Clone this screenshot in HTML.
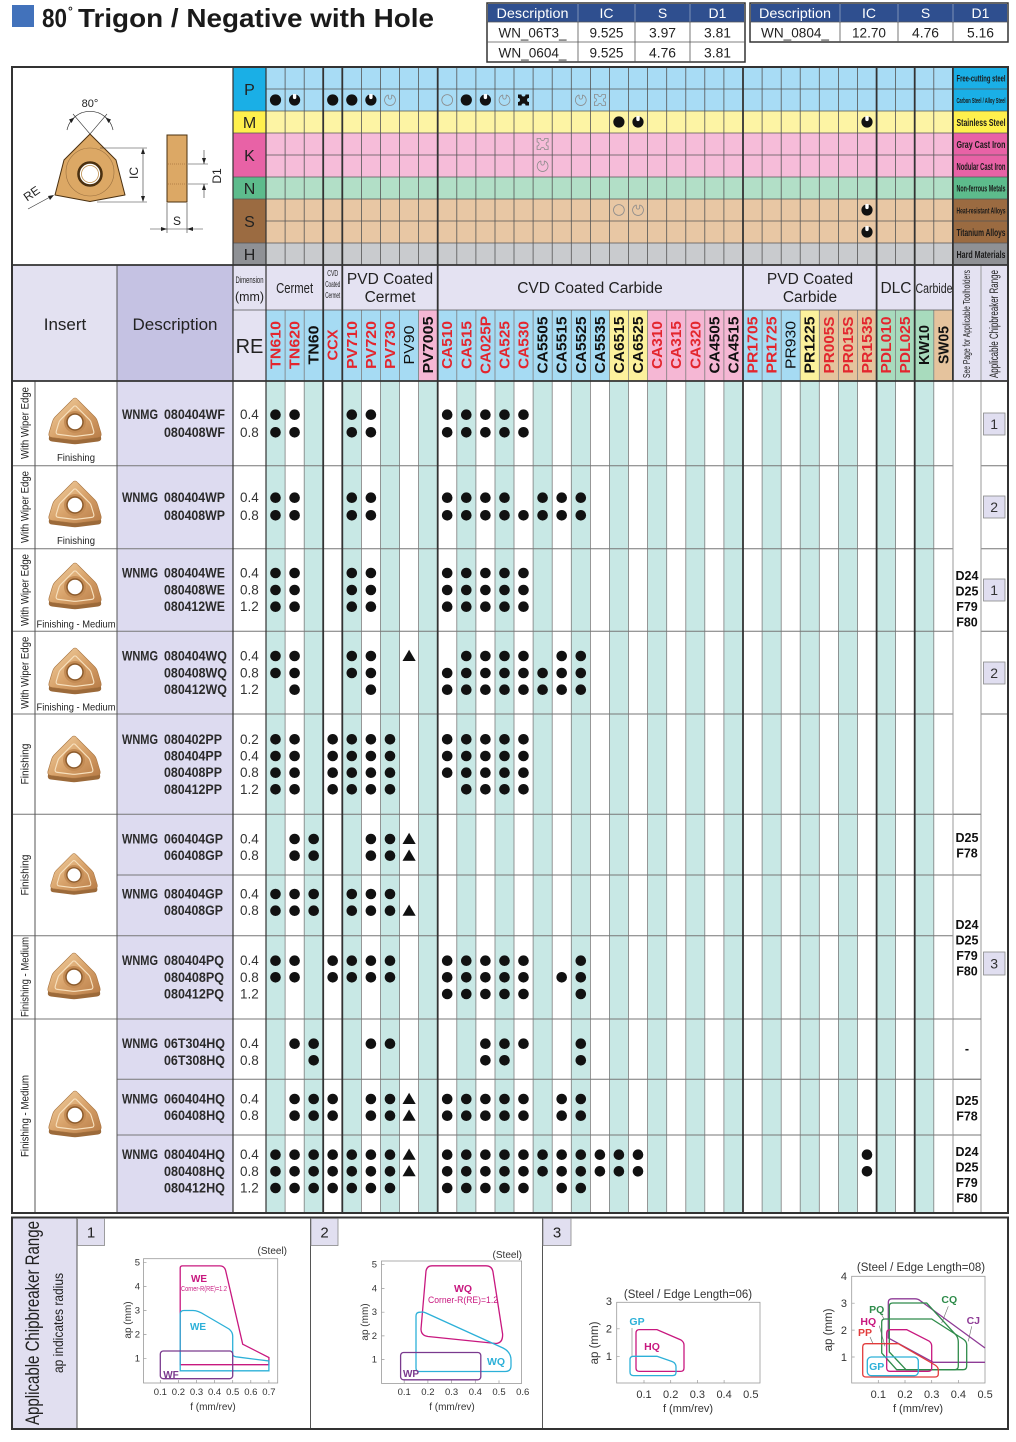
<!DOCTYPE html>
<html><head><meta charset="utf-8"><style>
html,body{margin:0;padding:0;background:#fff;}
svg{display:block;font-family:"Liberation Sans",Arial,sans-serif;}
.g{font-size:14.5px;font-weight:bold;text-anchor:middle;fill:#111}
.r{fill:#e3262e}
.n{font-weight:normal}
.m{text-anchor:middle}
.e{text-anchor:end}
.b{font-weight:bold}
.ds{font-size:13.5px;font-weight:bold;fill:#2a2a2a}
.re{font-size:13.5px;fill:#333}
.sp{font-size:12.5px;font-weight:bold;text-anchor:middle;fill:#111}
.ml{font-size:10px;font-weight:bold;text-anchor:middle;fill:#1a1a1a}
.ax{font-size:9.5px;fill:#333}
.ax2{font-size:11px;fill:#333}
</style></head><body>
<svg width="1016" height="1442" viewBox="0 0 1016 1442" xmlns="http://www.w3.org/2000/svg">
<defs>
<linearGradient id="gold" x1="0" y1="0" x2="1" y2="1"><stop offset="0" stop-color="#f4d5a8"/><stop offset="0.5" stop-color="#d9a46c"/><stop offset="1" stop-color="#b77b46"/></linearGradient>
<circle id="d" r="5.3" fill="#111"/>
<path id="t" d="M0,-6.2L6.6,5L-6.6,5Z" fill="#111"/>
<g id="nf"><circle r="5.6" fill="#111"/><path d="M-1.7,-6V-2.6A1.7,1.7 0 0 0 1.7,-2.6V-6Z" fill="#fff"/></g>
<g id="on" fill="none" stroke="#8a8a8a" stroke-width="0.8"><path d="M-1.7,-5.1A5.4,5.4 0 1 0 1.7,-5.1"/><path d="M-1.7,-5.1V-2.6A1.7,1.7 0 0 0 1.7,-2.6V-5.1"/></g>
<circle id="oc" r="5.4" fill="none" stroke="#8a8a8a" stroke-width="0.8"/>
<path id="x" d="M-5.5,-5.5H-2A2,2 0 0 0 2,-5.5H5.5V-2A2,2 0 0 0 5.5,2V5.5H2A2,2 0 0 0 -2,5.5H-5.5V2A2,2 0 0 0 -5.5,-2Z" fill="#111"/>
<path id="xo" d="M-5.5,-5.5H-2A2,2 0 0 0 2,-5.5H5.5V-2A2,2 0 0 0 5.5,2V5.5H2A2,2 0 0 0 -2,5.5H-5.5V2A2,2 0 0 0 -5.5,-2Z" fill="none" stroke="#8a8a8a" stroke-width="0.8"/>
<symbol id="ins" viewBox="-30 -28 60 56" overflow="visible">
<path transform="translate(0,4)" d="M-3,-21Q0,-25 3,-21L20,-4Q22,-2 22.7,1L26,12Q27,16 23,16.5L3,19Q0,19.4 -3,19L-23,16.5Q-27,16 -26,12L-22.7,1Q-22,-2 -20,-4Z" fill="#9c6a3a"/>
<path d="M-3,-21Q0,-25 3,-21L20,-4Q22,-2 22.7,1L26,12Q27,16 23,16.5L3,19Q0,19.4 -3,19L-23,16.5Q-27,16 -26,12L-22.7,1Q-22,-2 -20,-4Z" fill="url(#gold)" stroke="#a87440" stroke-width="0.6"/>
<path transform="translate(0,1.5) scale(0.72)" d="M-3,-21Q0,-25 3,-21L20,-4Q22,-2 22.7,1L26,12Q27,16 23,16.5L3,19Q0,19.4 -3,19L-23,16.5Q-27,16 -26,12L-22.7,1Q-22,-2 -20,-4Z" fill="none" stroke="#f7e0bd" stroke-width="1.6"/>
<circle cy="1" r="11" fill="#c48c55"/>
<circle cy="1" r="8" fill="#fff" stroke="#8b5a2b" stroke-width="1.5"/>
</symbol>
<g id="pA"><use href="#d" x="275.5"/><use href="#d" x="294.6"/><use href="#d" x="351.8"/><use href="#d" x="370.9"/><use href="#d" x="447.2"/><use href="#d" x="466.3"/><use href="#d" x="485.4"/><use href="#d" x="504.5"/><use href="#d" x="523.5"/></g>
<g id="pB"><use href="#d" x="275.5"/><use href="#d" x="294.6"/><use href="#d" x="351.8"/><use href="#d" x="370.9"/><use href="#d" x="447.2"/><use href="#d" x="466.3"/><use href="#d" x="485.4"/><use href="#d" x="504.5"/><use href="#d" x="542.6"/><use href="#d" x="561.7"/><use href="#d" x="580.8"/></g>
<g id="pC"><use href="#pA"/><use href="#d" x="542.6"/><use href="#d" x="561.7"/><use href="#d" x="580.8"/></g>
<g id="pD"><use href="#d" x="275.5"/><use href="#d" x="294.6"/><use href="#d" x="351.8"/><use href="#d" x="370.9"/><use href="#t" x="409.1"/><use href="#d" x="466.3"/><use href="#d" x="485.4"/><use href="#d" x="504.5"/><use href="#d" x="523.5"/><use href="#d" x="561.7"/><use href="#d" x="580.8"/></g>
<g id="pE"><use href="#d" x="294.6"/><use href="#d" x="370.9"/><use href="#d" x="447.2"/><use href="#d" x="466.3"/><use href="#d" x="485.4"/><use href="#d" x="504.5"/><use href="#d" x="523.5"/><use href="#d" x="542.6"/><use href="#d" x="561.7"/><use href="#d" x="580.8"/></g>
<g id="pF"><use href="#d" x="275.5"/><use href="#d" x="294.6"/><use href="#d" x="332.7"/><use href="#d" x="351.8"/><use href="#d" x="370.9"/><use href="#d" x="390"/><use href="#d" x="447.2"/><use href="#d" x="466.3"/><use href="#d" x="485.4"/><use href="#d" x="504.5"/><use href="#d" x="523.5"/></g>
<g id="pG"><use href="#d" x="275.5"/><use href="#d" x="294.6"/><use href="#d" x="332.7"/><use href="#d" x="351.8"/><use href="#d" x="370.9"/><use href="#d" x="390"/><use href="#d" x="466.3"/><use href="#d" x="485.4"/><use href="#d" x="504.5"/><use href="#d" x="523.5"/></g>
<g id="pH"><use href="#d" x="294.6"/><use href="#d" x="313.7"/><use href="#d" x="370.9"/><use href="#d" x="390"/><use href="#t" x="409.1"/></g>
<g id="pI"><use href="#d" x="275.5"/><use href="#d" x="294.6"/><use href="#d" x="313.7"/><use href="#d" x="351.8"/><use href="#d" x="370.9"/><use href="#d" x="390"/></g>
<g id="pJ"><use href="#pI"/><use href="#t" x="409.1"/></g>
<g id="pK"><use href="#pF"/><use href="#d" x="580.8"/></g>
<g id="pL"><use href="#pF"/><use href="#d" x="561.7"/><use href="#d" x="580.8"/></g>
<g id="pM"><use href="#d" x="447.2"/><use href="#d" x="466.3"/><use href="#d" x="485.4"/><use href="#d" x="504.5"/><use href="#d" x="523.5"/><use href="#d" x="580.8"/></g>
<g id="pN"><use href="#d" x="294.6"/><use href="#d" x="313.7"/><use href="#d" x="370.9"/><use href="#d" x="390"/><use href="#d" x="485.4"/><use href="#d" x="504.5"/><use href="#d" x="523.5"/><use href="#d" x="580.8"/></g>
<g id="pO"><use href="#d" x="313.7"/><use href="#d" x="485.4"/><use href="#d" x="504.5"/><use href="#d" x="580.8"/></g>
<g id="pP"><use href="#d" x="294.6"/><use href="#d" x="313.7"/><use href="#d" x="332.7"/><use href="#d" x="370.9"/><use href="#d" x="390"/><use href="#t" x="409.1"/><use href="#d" x="447.2"/><use href="#d" x="466.3"/><use href="#d" x="485.4"/><use href="#d" x="504.5"/><use href="#d" x="523.5"/><use href="#d" x="561.7"/><use href="#d" x="580.8"/></g>
<g id="p7"><use href="#d" x="275.5"/><use href="#d" x="294.6"/><use href="#d" x="313.7"/><use href="#d" x="332.7"/><use href="#d" x="351.8"/><use href="#d" x="370.9"/><use href="#d" x="390"/></g>
<g id="pQ"><use href="#p7"/><use href="#t" x="409.1"/><use href="#d" x="447.2"/><use href="#d" x="466.3"/><use href="#d" x="485.4"/><use href="#d" x="504.5"/><use href="#d" x="523.5"/><use href="#d" x="542.6"/><use href="#d" x="561.7"/><use href="#d" x="580.8"/><use href="#d" x="599.9"/><use href="#d" x="618.9"/><use href="#d" x="638"/><use href="#d" x="867"/></g>
<g id="pR"><use href="#p7"/><use href="#d" x="447.2"/><use href="#d" x="466.3"/><use href="#d" x="485.4"/><use href="#d" x="504.5"/><use href="#d" x="523.5"/><use href="#d" x="561.7"/><use href="#d" x="580.8"/></g>
</defs>

<!-- ===== TITLE ===== -->
<rect x="12" y="5" width="22" height="22" fill="#4272bb"/>
<text x="42" y="27" font-size="26" font-weight="bold" fill="#1a1a1a" textLength="25" lengthAdjust="spacingAndGlyphs">80</text>
<text x="68" y="15" font-size="12" font-weight="bold" fill="#1a1a1a">°</text>
<text x="78" y="27" font-size="26" font-weight="bold" fill="#1a1a1a" textLength="356" lengthAdjust="spacingAndGlyphs">Trigon / Negative with Hole</text>

<!-- tables -->
<g font-size="14" fill="#222">
<rect x="487" y="3" width="258" height="59" fill="#fff" stroke="#333" stroke-width="1.5"/>
<rect x="488" y="4" width="256" height="18" fill="#2f4f8f"/>
<path d="M578,3V62M635,3V62M690,3V62" stroke="#555" stroke-width="0.8"/>
<path d="M578,4V22M635,4V22M690,4V22" stroke="#8aa0cc" stroke-width="0.8"/>
<path d="M487,22H745M487,42H745" stroke="#555" stroke-width="0.8"/>
<g fill="#fff" text-anchor="middle">
<text x="532.5" y="18" textLength="72" lengthAdjust="spacingAndGlyphs">Description</text>
<text x="606.5" y="18">IC</text><text x="662.5" y="18">S</text><text x="717.5" y="18">D1</text></g>
<g text-anchor="middle">
<text x="532.5" y="37.5" textLength="68" lengthAdjust="spacingAndGlyphs">WN_06T3_</text>
<text x="606.5" y="37.5" textLength="34" lengthAdjust="spacingAndGlyphs">9.525</text>
<text x="662.5" y="37.5" textLength="27" lengthAdjust="spacingAndGlyphs">3.97</text>
<text x="717.5" y="37.5" textLength="27" lengthAdjust="spacingAndGlyphs">3.81</text>
<text x="532.5" y="57.5" textLength="68" lengthAdjust="spacingAndGlyphs">WN_0604_</text>
<text x="606.5" y="57.5" textLength="34" lengthAdjust="spacingAndGlyphs">9.525</text>
<text x="662.5" y="57.5" textLength="27" lengthAdjust="spacingAndGlyphs">4.76</text>
<text x="717.5" y="57.5" textLength="27" lengthAdjust="spacingAndGlyphs">3.81</text>
</g>
<rect x="750" y="3" width="258" height="39" fill="#fff" stroke="#333" stroke-width="1.5"/>
<rect x="751" y="4" width="256" height="18" fill="#2f4f8f"/>
<path d="M840,3V42M898,3V42M953,3V42M750,22H1008" stroke="#555" stroke-width="0.8"/>
<path d="M840,4V22M898,4V22M953,4V22" stroke="#8aa0cc" stroke-width="0.8"/>
<g fill="#fff" text-anchor="middle">
<text x="795" y="18" textLength="72" lengthAdjust="spacingAndGlyphs">Description</text>
<text x="869" y="18">IC</text><text x="925.5" y="18">S</text><text x="980.5" y="18">D1</text></g>
<g text-anchor="middle">
<text x="795" y="37.5" textLength="68" lengthAdjust="spacingAndGlyphs">WN_0804_</text>
<text x="869" y="37.5" textLength="34" lengthAdjust="spacingAndGlyphs">12.70</text>
<text x="925.5" y="37.5" textLength="27" lengthAdjust="spacingAndGlyphs">4.76</text>
<text x="980.5" y="37.5" textLength="27" lengthAdjust="spacingAndGlyphs">5.16</text>
</g>
</g>

<!-- ===== MATERIAL AREA ===== -->
<rect x="266" y="67" width="687" height="44" fill="#a8dcf5"/>
<rect x="266" y="111" width="687" height="22" fill="#fdf4a4"/>
<rect x="266" y="133" width="687" height="44" fill="#f6bcd9"/>
<rect x="266" y="177" width="687" height="22" fill="#b2dfc7"/>
<rect x="266" y="199" width="687" height="44" fill="#e8c7a4"/>
<rect x="266" y="243" width="687" height="22" fill="#c9cbce"/>
<rect x="233" y="67" width="33" height="44" fill="#1aafe6"/><rect x="953" y="67" width="55" height="44" fill="#1aafe6"/>
<rect x="233" y="111" width="33" height="22" fill="#fff04d"/><rect x="953" y="111" width="55" height="22" fill="#fff04d"/>
<rect x="233" y="133" width="33" height="44" fill="#e862a6"/><rect x="953" y="133" width="55" height="44" fill="#e862a6"/>
<rect x="233" y="177" width="33" height="22" fill="#5dbb8c"/><rect x="953" y="177" width="55" height="22" fill="#5dbb8c"/>
<rect x="233" y="199" width="33" height="44" fill="#9b6b41"/><rect x="953" y="199" width="55" height="44" fill="#9b6b41"/>
<rect x="233" y="243" width="33" height="22" fill="#8f9195"/><rect x="953" y="243" width="55" height="22" fill="#8f9195"/>
<g font-size="16" text-anchor="middle" fill="#222">
<text x="249.5" y="95">P</text><text x="249.5" y="128">M</text><text x="249.5" y="161">K</text>
<text x="249.5" y="194">N</text><text x="249.5" y="227">S</text><text x="249.5" y="260">H</text></g>
<g class="ml">
<text x="981" y="81.5" font-size="9" textLength="49" lengthAdjust="spacingAndGlyphs">Free-cutting steel</text>
<text x="981" y="103" font-size="7.5" textLength="49" lengthAdjust="spacingAndGlyphs">Carbon Steel / Alloy Steel</text>
<text x="981" y="126" font-size="10.5" textLength="49" lengthAdjust="spacingAndGlyphs">Stainless Steel</text>
<text x="981" y="148" font-size="10.5" textLength="49" lengthAdjust="spacingAndGlyphs">Gray Cast Iron</text>
<text x="981" y="170" font-size="10" textLength="49" lengthAdjust="spacingAndGlyphs">Nodular Cast Iron</text>
<text x="981" y="191.5" font-size="9" textLength="49" lengthAdjust="spacingAndGlyphs">Non-ferrous Metals</text>
<text x="981" y="213.5" font-size="8.5" textLength="49" lengthAdjust="spacingAndGlyphs">Heat-resistant Alloys</text>
<text x="981" y="236" font-size="10" textLength="49" lengthAdjust="spacingAndGlyphs">Titanium Alloys</text>
<text x="981" y="258" font-size="10" textLength="49" lengthAdjust="spacingAndGlyphs">Hard Materials</text>
</g>
<path d="M266,89H1008M233,111H1008M233,133H1008M266,155H1008M233,177H1008M233,199H1008M266,221H1008M233,243H1008" stroke="#555" stroke-width="0.8"/>
<path d="M285.1,67V265M304.2,67V265M361.4,67V265M380.5,67V265M399.6,67V265M418.6,67V265M456.8,67V265M475.9,67V265M495,67V265M514,67V265M533.1,67V265M552.2,67V265M571.3,67V265M590.4,67V265M609.4,67V265M628.5,67V265M647.6,67V265M666.7,67V265M685.8,67V265M704.8,67V265M723.9,67V265M762.1,67V265M781.2,67V265M800.2,67V265M819.3,67V265M838.4,67V265M857.5,67V265M895.6,67V265M933.8,67V265" stroke="#555" stroke-width="0.8"/>
<!-- material symbols -->
<g transform="translate(0,100)">
<use href="#nf" x="-1000"/>
</g>
<use href="#d" x="275.5" y="100" transform="scale(1)"/>
<g>
<circle cx="275.5" cy="100" r="5.6" fill="#111"/>
<use href="#nf" x="294.6" y="100"/>
<circle cx="332.7" cy="100" r="5.6" fill="#111"/>
<circle cx="351.8" cy="100" r="5.6" fill="#111"/>
<use href="#nf" x="370.9" y="100"/>
<use href="#on" x="390" y="100"/>
<use href="#oc" x="447.2" y="100"/>
<circle cx="466.3" cy="100" r="5.6" fill="#111"/>
<use href="#nf" x="485.4" y="100"/>
<use href="#on" x="504.5" y="100"/>
<use href="#x" x="523.5" y="100"/>
<use href="#on" x="580.8" y="100"/>
<use href="#xo" x="599.9" y="100"/>
<circle cx="618.9" cy="122" r="5.6" fill="#111"/>
<use href="#nf" x="638" y="122"/>
<use href="#nf" x="867" y="122"/>
<use href="#xo" x="542.6" y="144"/>
<use href="#on" x="542.6" y="166"/>
<use href="#oc" x="618.9" y="210"/>
<use href="#on" x="638" y="210"/>
<use href="#nf" x="867" y="210"/>
<use href="#nf" x="867" y="232"/>
</g>

<!-- ===== TOP-LEFT DIAGRAM ===== -->
<rect x="12" y="67" width="221" height="198" fill="#fff"/>
<path d="M90,134L116,160L125,195L90,201.5L55,195L64,160Z" fill="#dca865" stroke="#4a3010" stroke-width="1" stroke-linejoin="round"/>
<circle cx="90" cy="172" r="24" fill="none" stroke="#9a7040" stroke-width="0.6"/>
<circle cx="90" cy="174" r="11.5" fill="#fff" stroke="#4a3010" stroke-width="2.6"/>
<circle cx="90" cy="174" r="8.5" fill="none" stroke="#c0914f" stroke-width="0.8"/>
<path d="M90,134L73,114M90,134L107,114" stroke="#333" stroke-width="0.6"/>
<path d="M67,130A23.5,23.5 0 0 1 113,130" fill="none" stroke="#333" stroke-width="0.7"/>
<path d="M74.5,117.5L69,119.5L71.5,123ZM105.5,117.5L111,119.5L108.5,123Z" fill="#222"/>
<text x="90" y="107" font-size="11" class="m" fill="#222">80°</text>
<path d="M100,148H147M97,202H147M143,150V200" stroke="#333" stroke-width="0.6"/>
<path d="M143,148L141,154L145,154ZM143,202L141,196L145,196Z" fill="#222"/>
<text transform="translate(138,173) rotate(-90)" font-size="12" class="m" fill="#222">IC</text>
<rect x="167" y="135" width="20" height="67" fill="#dca865" stroke="#4a3010" stroke-width="1"/>
<path d="M168,164H186M168,184H186" stroke="#8a5a2a" stroke-width="0.6" stroke-dasharray="1,1"/>
<path d="M188,164H208M188,184H208M204,150V164M204,184V198" stroke="#333" stroke-width="0.6"/>
<path d="M204,164L202,158L206,158ZM204,184L202,190L206,190Z" fill="#222"/>
<text transform="translate(221,176) rotate(-90)" font-size="12" class="m" fill="#222">D1</text>
<path d="M167,203V233M187,203V233M150,229H203" stroke="#333" stroke-width="0.6"/>
<path d="M167,229L161,227L161,231ZM187,229L193,227L193,231Z" fill="#222"/>
<text x="177" y="225" font-size="12" class="m" fill="#222">S</text>
<text transform="translate(34,197) rotate(-35)" font-size="12" class="m" fill="#222">RE</text>
<path d="M28,209L51,196.5" stroke="#333" stroke-width="0.6"/>
<path d="M54,195L48,196L50,200Z" fill="#222"/>

<!-- ===== HEADER ===== -->
<rect x="12" y="265" width="105" height="116" fill="#e3e1f1"/>
<rect x="117" y="265" width="116" height="116" fill="#c5c2e3"/>
<rect x="233" y="265" width="720" height="116" fill="#e4e2f2"/>
<rect x="953" y="265" width="55" height="116" fill="#e4e2f2"/>
<text x="65" y="330" font-size="17" class="m" fill="#222">Insert</text>
<text x="175" y="330" font-size="17" class="m" fill="#222">Description</text>
<text x="249.5" y="283" font-size="9" class="m" fill="#222" textLength="28" lengthAdjust="spacingAndGlyphs">Dimension</text>
<text x="249.5" y="301" font-size="13" class="m" fill="#222" textLength="29" lengthAdjust="spacingAndGlyphs">(mm)</text>
<text x="249.5" y="353" font-size="20" class="m" fill="#222">RE</text>
<g fill="#222" class="m">
<text x="294.6" y="293" font-size="14.5" textLength="37" lengthAdjust="spacingAndGlyphs">Cermet</text>
<text x="332.7" y="276" font-size="8" textLength="11" lengthAdjust="spacingAndGlyphs">CVD</text>
<text x="332.7" y="287" font-size="8" textLength="15" lengthAdjust="spacingAndGlyphs">Coated</text>
<text x="332.7" y="298" font-size="8" textLength="15" lengthAdjust="spacingAndGlyphs">Cermet</text>
<text x="390" y="284" font-size="15.5">PVD Coated</text>
<text x="390" y="302" font-size="15.5">Cermet</text>
<text x="590" y="293" font-size="15.5">CVD Coated Carbide</text>
<text x="810" y="284" font-size="15.5">PVD Coated</text>
<text x="810" y="302" font-size="15.5">Carbide</text>
<text x="896" y="293" font-size="15.5">DLC</text>
<text x="934" y="293" font-size="13.5" textLength="37" lengthAdjust="spacingAndGlyphs">Carbide</text>
<text transform="translate(970,324) rotate(-90)" font-size="10.5" textLength="108" lengthAdjust="spacingAndGlyphs">See Page for Applicable Toolholders</text>
<text transform="translate(998,324) rotate(-90)" font-size="11.5" textLength="108" lengthAdjust="spacingAndGlyphs">Applicable Chipbreaker Range</text>
</g>
<!-- grade bgs -->
<rect x="266" y="310" width="152.6" height="71" fill="#a6dbf3"/>
<rect x="418.6" y="310" width="19.1" height="71" fill="#f5b7d4"/>
<rect x="437.7" y="310" width="171.7" height="71" fill="#a6dbf3"/>
<rect x="609.4" y="310" width="38.2" height="71" fill="#fcf19c"/>
<rect x="647.6" y="310" width="95.4" height="71" fill="#f5b7d4"/>
<rect x="743" y="310" width="57.2" height="71" fill="#a6dbf3"/>
<rect x="800.2" y="310" width="19.1" height="71" fill="#fcf19c"/>
<rect x="819.3" y="310" width="57.3" height="71" fill="#e5c39d"/>
<rect x="876.6" y="310" width="57.2" height="71" fill="#a8dbbd"/>
<rect x="933.8" y="310" width="19.1" height="71" fill="#e5c39d"/>
<g class="g">
<text class="r" transform="translate(275.5,345) rotate(-90)" dy="5" textLength="48" lengthAdjust="spacingAndGlyphs">TN610</text>
<text class="r" transform="translate(294.6,345) rotate(-90)" dy="5" textLength="48" lengthAdjust="spacingAndGlyphs">TN620</text>
<text transform="translate(313.7,345) rotate(-90)" dy="5" textLength="39" lengthAdjust="spacingAndGlyphs">TN60</text>
<text class="r" transform="translate(332.7,345) rotate(-90)" dy="5" textLength="31" lengthAdjust="spacingAndGlyphs">CCX</text>
<text class="r" transform="translate(351.8,345) rotate(-90)" dy="5" textLength="48" lengthAdjust="spacingAndGlyphs">PV710</text>
<text class="r" transform="translate(370.9,345) rotate(-90)" dy="5" textLength="48" lengthAdjust="spacingAndGlyphs">PV720</text>
<text class="r" transform="translate(390,345) rotate(-90)" dy="5" textLength="48" lengthAdjust="spacingAndGlyphs">PV730</text>
<text class="n" transform="translate(409.1,345) rotate(-90)" dy="5" textLength="39" lengthAdjust="spacingAndGlyphs">PV90</text>
<text transform="translate(428.1,345) rotate(-90)" dy="5" textLength="57" lengthAdjust="spacingAndGlyphs">PV7005</text>
<text class="r" transform="translate(447.2,345) rotate(-90)" dy="5" textLength="48" lengthAdjust="spacingAndGlyphs">CA510</text>
<text class="r" transform="translate(466.3,345) rotate(-90)" dy="5" textLength="48" lengthAdjust="spacingAndGlyphs">CA515</text>
<text class="r" transform="translate(485.4,345) rotate(-90)" dy="5" textLength="58" lengthAdjust="spacingAndGlyphs">CA025P</text>
<text class="r" transform="translate(504.5,345) rotate(-90)" dy="5" textLength="48" lengthAdjust="spacingAndGlyphs">CA525</text>
<text class="r" transform="translate(523.5,345) rotate(-90)" dy="5" textLength="48" lengthAdjust="spacingAndGlyphs">CA530</text>
<text transform="translate(542.6,345) rotate(-90)" dy="5" textLength="57" lengthAdjust="spacingAndGlyphs">CA5505</text>
<text transform="translate(561.7,345) rotate(-90)" dy="5" textLength="57" lengthAdjust="spacingAndGlyphs">CA5515</text>
<text transform="translate(580.8,345) rotate(-90)" dy="5" textLength="57" lengthAdjust="spacingAndGlyphs">CA5525</text>
<text transform="translate(599.9,345) rotate(-90)" dy="5" textLength="57" lengthAdjust="spacingAndGlyphs">CA5535</text>
<text transform="translate(618.9,345) rotate(-90)" dy="5" textLength="57" lengthAdjust="spacingAndGlyphs">CA6515</text>
<text transform="translate(638,345) rotate(-90)" dy="5" textLength="57" lengthAdjust="spacingAndGlyphs">CA6525</text>
<text class="r" transform="translate(657.1,345) rotate(-90)" dy="5" textLength="48" lengthAdjust="spacingAndGlyphs">CA310</text>
<text class="r" transform="translate(676.2,345) rotate(-90)" dy="5" textLength="48" lengthAdjust="spacingAndGlyphs">CA315</text>
<text class="r" transform="translate(695.3,345) rotate(-90)" dy="5" textLength="48" lengthAdjust="spacingAndGlyphs">CA320</text>
<text transform="translate(714.3,345) rotate(-90)" dy="5" textLength="57" lengthAdjust="spacingAndGlyphs">CA4505</text>
<text transform="translate(733.4,345) rotate(-90)" dy="5" textLength="57" lengthAdjust="spacingAndGlyphs">CA4515</text>
<text class="r" transform="translate(752.5,345) rotate(-90)" dy="5" textLength="57" lengthAdjust="spacingAndGlyphs">PR1705</text>
<text class="r" transform="translate(771.6,345) rotate(-90)" dy="5" textLength="57" lengthAdjust="spacingAndGlyphs">PR1725</text>
<text class="n" transform="translate(790.7,345) rotate(-90)" dy="5" textLength="48" lengthAdjust="spacingAndGlyphs">PR930</text>
<text transform="translate(809.7,345) rotate(-90)" dy="5" textLength="57" lengthAdjust="spacingAndGlyphs">PR1225</text>
<text class="r" transform="translate(828.8,345) rotate(-90)" dy="5" textLength="57" lengthAdjust="spacingAndGlyphs">PR005S</text>
<text class="r" transform="translate(847.9,345) rotate(-90)" dy="5" textLength="57" lengthAdjust="spacingAndGlyphs">PR015S</text>
<text class="r" transform="translate(867,345) rotate(-90)" dy="5" textLength="57" lengthAdjust="spacingAndGlyphs">PR1535</text>
<text class="r" transform="translate(886.1,345) rotate(-90)" dy="5" textLength="57" lengthAdjust="spacingAndGlyphs">PDL010</text>
<text class="r" transform="translate(905.1,345) rotate(-90)" dy="5" textLength="57" lengthAdjust="spacingAndGlyphs">PDL025</text>
<text transform="translate(924.2,345) rotate(-90)" dy="5" textLength="40" lengthAdjust="spacingAndGlyphs">KW10</text>
<text transform="translate(943.3,345) rotate(-90)" dy="5" textLength="38" lengthAdjust="spacingAndGlyphs">SW05</text>
</g>

<!-- ===== BODY ===== -->
<rect x="117" y="381" width="116" height="832" fill="#dddbf0"/>
<g fill="#c8e8e5">
<rect x="266" y="381" width="19.1" height="832"/><rect x="304.2" y="381" width="19.1" height="832"/><rect x="342.3" y="381" width="19.1" height="832"/><rect x="380.5" y="381" width="19.1" height="832"/><rect x="418.6" y="381" width="19.1" height="832"/><rect x="456.8" y="381" width="19.1" height="832"/><rect x="495" y="381" width="19.1" height="832"/><rect x="533.1" y="381" width="19.1" height="832"/><rect x="571.3" y="381" width="19.1" height="832"/><rect x="609.4" y="381" width="19.1" height="832"/><rect x="647.6" y="381" width="19.1" height="832"/><rect x="685.8" y="381" width="19.1" height="832"/><rect x="723.9" y="381" width="19.1" height="832"/><rect x="762.1" y="381" width="19.1" height="832"/><rect x="800.2" y="381" width="19.1" height="832"/><rect x="838.4" y="381" width="19.1" height="832"/><rect x="876.6" y="381" width="19.1" height="832"/><rect x="914.7" y="381" width="19.1" height="832"/>
</g>
<path d="M285.1,310V1213M304.2,310V1213M361.4,310V1213M380.5,310V1213M399.6,310V1213M418.6,310V1213M456.8,310V1213M475.9,310V1213M495,310V1213M514,310V1213M533.1,310V1213M552.2,310V1213M571.3,310V1213M590.4,310V1213M609.4,310V1213M628.5,310V1213M647.6,310V1213M666.7,310V1213M685.8,310V1213M704.8,310V1213M723.9,310V1213M762.1,310V1213M781.2,310V1213M800.2,310V1213M819.3,310V1213M838.4,310V1213M857.5,310V1213M895.6,310V1213M933.8,310V1213" stroke="#7d7d7d" stroke-width="0.8"/>
<!-- horizontal body lines -->
<path d="M12,465.7H953M12,548.7H953M12,631.3H953M12,714H953M981,465.7H1008M981,548.7H1008M981,631.3H1008M981,714H1008M12,814.3H981M12,935.7H953M12,1019H981M117,875H981M117,1079.3H981M117,1135H981" stroke="#777" stroke-width="1"/>
<path d="M233,310H953" stroke="#555" stroke-width="0.8"/>
<!-- vertical structural lines -->
<path d="M35,381V1213M117,265V1213" stroke="#555" stroke-width="1"/>
<path d="M953,381V1213M981,265V1213" stroke="#999" stroke-width="1"/>
<path d="M233,67V1213M266,67V1213" stroke="#333" stroke-width="1.2"/>
<path d="M323.2,67V1213M342.3,67V1213M437.7,67V1213M743,67V1213M876.6,67V1213M914.7,67V1213M952.9,67V381" stroke="#333" stroke-width="1.8"/>
<path d="M12,265H1008M12,381H1008" stroke="#333" stroke-width="1.8"/>
<rect x="12" y="67" width="996" height="1146" fill="none" stroke="#333" stroke-width="2"/>

<!-- left labels -->
<g font-size="11" class="m" fill="#222">
<text transform="translate(28.5,423) rotate(-90)" textLength="72" lengthAdjust="spacingAndGlyphs">With Wiper Edge</text>
<text transform="translate(28.5,507) rotate(-90)" textLength="72" lengthAdjust="spacingAndGlyphs">With Wiper Edge</text>
<text transform="translate(28.5,590) rotate(-90)" textLength="72" lengthAdjust="spacingAndGlyphs">With Wiper Edge</text>
<text transform="translate(28.5,672.7) rotate(-90)" textLength="72" lengthAdjust="spacingAndGlyphs">With Wiper Edge</text>
<text transform="translate(28.5,764) rotate(-90)" textLength="41" lengthAdjust="spacingAndGlyphs">Finishing</text>
<text transform="translate(28.5,875) rotate(-90)" textLength="41" lengthAdjust="spacingAndGlyphs">Finishing</text>
<text transform="translate(28.5,977) rotate(-90)" textLength="80" lengthAdjust="spacingAndGlyphs">Finishing - Medium</text>
<text transform="translate(28.5,1116) rotate(-90)" textLength="82" lengthAdjust="spacingAndGlyphs">Finishing - Medium</text>
</g>
<g font-size="10.5" class="m" fill="#222">
<text x="76" y="461" textLength="38" lengthAdjust="spacingAndGlyphs">Finishing</text>
<text x="76" y="544" textLength="38" lengthAdjust="spacingAndGlyphs">Finishing</text>
<text x="76" y="627.5" textLength="79" lengthAdjust="spacingAndGlyphs">Finishing - Medium</text>
<text x="76" y="710.5" textLength="79" lengthAdjust="spacingAndGlyphs">Finishing - Medium</text>
</g>
<use href="#ins" x="45" y="393" width="60" height="56"/>
<use href="#ins" x="45" y="476" width="60" height="56"/>
<use href="#ins" x="45" y="558" width="60" height="56"/>
<use href="#ins" x="45" y="643" width="60" height="56"/>
<use href="#ins" x="44" y="731" width="60" height="56"/>
<use href="#ins" x="47" y="849" width="54" height="50"/>
<use href="#ins" x="44" y="948" width="60" height="56"/>
<use href="#ins" x="45" y="1086" width="60" height="56"/>

<!-- descriptions -->
<g class="ds">
<text x="122" y="419.2" textLength="36" lengthAdjust="spacingAndGlyphs">WNMG</text>
<text x="225" y="419.2" class="e" textLength="61" lengthAdjust="spacingAndGlyphs">080404WF</text>
<text x="225" y="436.8" class="e" textLength="61" lengthAdjust="spacingAndGlyphs">080408WF</text>
<text x="122" y="502.2" textLength="36" lengthAdjust="spacingAndGlyphs">WNMG</text>
<text x="225" y="502.2" class="e" textLength="61" lengthAdjust="spacingAndGlyphs">080404WP</text>
<text x="225" y="519.8" class="e" textLength="61" lengthAdjust="spacingAndGlyphs">080408WP</text>
<text x="122" y="577.5" textLength="36" lengthAdjust="spacingAndGlyphs">WNMG</text>
<text x="225" y="577.5" class="e" textLength="61" lengthAdjust="spacingAndGlyphs">080404WE</text>
<text x="225" y="594.5" class="e" textLength="61" lengthAdjust="spacingAndGlyphs">080408WE</text>
<text x="225" y="611.2" class="e" textLength="61" lengthAdjust="spacingAndGlyphs">080412WE</text>
<text x="122" y="660.5" textLength="36" lengthAdjust="spacingAndGlyphs">WNMG</text>
<text x="227" y="660.5" class="e" textLength="63" lengthAdjust="spacingAndGlyphs">080404WQ</text>
<text x="227" y="677.5" class="e" textLength="63" lengthAdjust="spacingAndGlyphs">080408WQ</text>
<text x="227" y="694.2" class="e" textLength="63" lengthAdjust="spacingAndGlyphs">080412WQ</text>
<text x="122" y="743.8" textLength="36" lengthAdjust="spacingAndGlyphs">WNMG</text>
<text x="222" y="743.8" class="e" textLength="58" lengthAdjust="spacingAndGlyphs">080402PP</text>
<text x="222" y="760.5" class="e" textLength="58" lengthAdjust="spacingAndGlyphs">080404PP</text>
<text x="222" y="777.2" class="e" textLength="58" lengthAdjust="spacingAndGlyphs">080408PP</text>
<text x="222" y="793.8" class="e" textLength="58" lengthAdjust="spacingAndGlyphs">080412PP</text>
<text x="122" y="843.5" textLength="36" lengthAdjust="spacingAndGlyphs">WNMG</text>
<text x="223" y="843.5" class="e" textLength="59" lengthAdjust="spacingAndGlyphs">060404GP</text>
<text x="223" y="860.2" class="e" textLength="59" lengthAdjust="spacingAndGlyphs">060408GP</text>
<text x="122" y="898.5" textLength="36" lengthAdjust="spacingAndGlyphs">WNMG</text>
<text x="223" y="898.5" class="e" textLength="59" lengthAdjust="spacingAndGlyphs">080404GP</text>
<text x="223" y="915.2" class="e" textLength="59" lengthAdjust="spacingAndGlyphs">080408GP</text>
<text x="122" y="965.2" textLength="36" lengthAdjust="spacingAndGlyphs">WNMG</text>
<text x="224" y="965.2" class="e" textLength="60" lengthAdjust="spacingAndGlyphs">080404PQ</text>
<text x="224" y="981.8" class="e" textLength="60" lengthAdjust="spacingAndGlyphs">080408PQ</text>
<text x="224" y="998.5" class="e" textLength="60" lengthAdjust="spacingAndGlyphs">080412PQ</text>
<text x="122" y="1048.2" textLength="36" lengthAdjust="spacingAndGlyphs">WNMG</text>
<text x="225" y="1048.2" class="e" textLength="61" lengthAdjust="spacingAndGlyphs">06T304HQ</text>
<text x="225" y="1064.8" class="e" textLength="61" lengthAdjust="spacingAndGlyphs">06T308HQ</text>
<text x="122" y="1103.5" textLength="36" lengthAdjust="spacingAndGlyphs">WNMG</text>
<text x="225" y="1103.5" class="e" textLength="61" lengthAdjust="spacingAndGlyphs">060404HQ</text>
<text x="225" y="1120.2" class="e" textLength="61" lengthAdjust="spacingAndGlyphs">060408HQ</text>
<text x="122" y="1159.2" textLength="36" lengthAdjust="spacingAndGlyphs">WNMG</text>
<text x="225" y="1159.2" class="e" textLength="61" lengthAdjust="spacingAndGlyphs">080404HQ</text>
<text x="225" y="1175.8" class="e" textLength="61" lengthAdjust="spacingAndGlyphs">080408HQ</text>
<text x="225" y="1192.5" class="e" textLength="61" lengthAdjust="spacingAndGlyphs">080412HQ</text>
</g>
<g class="re">
<text x="240" y="419.2">0.4</text><text x="240" y="436.8">0.8</text>
<text x="240" y="502.2">0.4</text><text x="240" y="519.8">0.8</text>
<text x="240" y="577.5">0.4</text><text x="240" y="594.5">0.8</text><text x="240" y="611.2">1.2</text>
<text x="240" y="660.5">0.4</text><text x="240" y="677.5">0.8</text><text x="240" y="694.2">1.2</text>
<text x="240" y="743.8">0.2</text><text x="240" y="760.5">0.4</text><text x="240" y="777.2">0.8</text><text x="240" y="793.8">1.2</text>
<text x="240" y="843.5">0.4</text><text x="240" y="860.2">0.8</text>
<text x="240" y="898.5">0.4</text><text x="240" y="915.2">0.8</text>
<text x="240" y="965.2">0.4</text><text x="240" y="981.8">0.8</text><text x="240" y="998.5">1.2</text>
<text x="240" y="1048.2">0.4</text><text x="240" y="1064.8">0.8</text>
<text x="240" y="1103.5">0.4</text><text x="240" y="1120.2">0.8</text>
<text x="240" y="1159.2">0.4</text><text x="240" y="1175.8">0.8</text><text x="240" y="1192.5">1.2</text>
</g>

<!-- dots -->
<use href="#pA" y="414.7"/><use href="#pA" y="432.3"/>
<use href="#pB" y="497.7"/><use href="#pC" y="515.3"/>
<use href="#pA" y="573"/><use href="#pA" y="590"/><use href="#pA" y="606.7"/>
<use href="#pD" y="656"/><use href="#pC" y="673"/><use href="#pE" y="689.7"/>
<use href="#pF" y="739.3"/><use href="#pF" y="756"/><use href="#pF" y="772.7"/><use href="#pG" y="789.3"/>
<use href="#pH" y="839"/><use href="#pH" y="855.7"/>
<use href="#pI" y="894"/><use href="#pJ" y="910.7"/>
<use href="#pK" y="960.7"/><use href="#pL" y="977.3"/><use href="#pM" y="994"/>
<use href="#pN" y="1043.7"/><use href="#pO" y="1060.3"/>
<use href="#pP" y="1099"/><use href="#pP" y="1115.7"/>
<use href="#pQ" y="1154.7"/><use href="#pQ" y="1171.3"/><use href="#pR" y="1188"/>

<!-- see page column -->
<path d="M953,814.3H981M953,875H981M953,1019H981M953,1079.3H981M953,1135H981" stroke="#777" stroke-width="1"/>
<g class="sp">
<text x="967" y="580">D24</text><text x="967" y="595.5">D25</text><text x="967" y="611">F79</text><text x="967" y="626.5">F80</text>
<text x="967" y="842">D25</text><text x="967" y="857.5">F78</text>
<text x="967" y="929">D24</text><text x="967" y="944.5">D25</text><text x="967" y="960">F79</text><text x="967" y="975.5">F80</text>
<text x="967" y="1053">-</text>
<text x="967" y="1105">D25</text><text x="967" y="1120.5">F78</text>
<text x="967" y="1156">D24</text><text x="967" y="1171.5">D25</text><text x="967" y="1187">F79</text><text x="967" y="1202.5">F80</text>
</g>
<g fill="#e0def0" stroke="#888" stroke-width="0.8">
<rect x="983.5" y="413" width="21.5" height="22"/>
<rect x="983.5" y="496" width="21.5" height="22"/>
<rect x="983.5" y="579" width="21.5" height="22"/>
<rect x="983.5" y="662" width="21.5" height="22"/>
<rect x="983.5" y="952" width="21.5" height="23"/>
</g>
<g font-size="14" class="m" fill="#333">
<text x="994.2" y="429">1</text><text x="994.2" y="512">2</text><text x="994.2" y="595">1</text><text x="994.2" y="678">2</text><text x="994.2" y="968.5">3</text>
</g>

<!-- ===== BOTTOM CHARTS ===== -->
<rect x="12" y="1217.5" width="996" height="211.5" fill="#fff"/>
<rect x="12" y="1217.5" width="65" height="211.5" fill="#e1dff0"/>
<path d="M77,1217.5V1429M310.5,1217.5V1429M542.5,1217.5V1429" stroke="#555" stroke-width="1"/>
<rect x="12" y="1217.5" width="996" height="211.5" fill="none" stroke="#333" stroke-width="2"/>
<text transform="translate(39,1323) rotate(-90)" font-size="19" class="m" fill="#222" textLength="204" lengthAdjust="spacingAndGlyphs">Applicable Chipbreaker Range</text>
<text transform="translate(63,1323) rotate(-90)" font-size="13.5" class="m" fill="#222" textLength="100" lengthAdjust="spacingAndGlyphs">ap indicates radius</text>
<g fill="#e1dff0" stroke="#888" stroke-width="0.8">
<rect x="77.5" y="1218.5" width="27" height="27"/>
<rect x="311" y="1218.5" width="27" height="27"/>
<rect x="543" y="1218.5" width="28" height="27"/>
</g>
<g font-size="15" class="m" fill="#222">
<text x="91" y="1237.5">1</text><text x="324.5" y="1237.5">2</text><text x="557" y="1237.5">3</text>
</g>

<!-- chart 1 -->
<rect x="143.5" y="1258.7" width="134.2" height="124.3" fill="none" stroke="#999" stroke-width="0.8"/>
<path d="M143.5,1358.7h3M143.5,1334.6h3M143.5,1310.5h3M143.5,1286.4h3M143.5,1262.3h3M160.3,1383v-3M178.4,1383v-3M196.5,1383v-3M214.6,1383v-3M232.7,1383v-3M250.8,1383v-3M268.9,1383v-3" stroke="#999" stroke-width="0.7"/>
<g class="ax" font-size="8.5" text-anchor="end"><text x="140" y="1361.7">1</text><text x="140" y="1337.6">2</text><text x="140" y="1313.5">3</text><text x="140" y="1289.4">4</text><text x="140" y="1265.3">5</text></g>
<g class="ax" text-anchor="middle"><text x="160.3" y="1395">0.1</text><text x="178.4" y="1395">0.2</text><text x="196.5" y="1395">0.3</text><text x="214.6" y="1395">0.4</text><text x="232.7" y="1395">0.5</text><text x="250.8" y="1395">0.6</text><text x="268.9" y="1395">0.7</text></g>
<text x="213" y="1410" font-size="10" class="m" fill="#333">f (mm/rev)</text>
<text transform="translate(131,1320) rotate(-90)" font-size="10" class="m" fill="#333">ap (mm)</text>
<text x="287" y="1254" font-size="10" class="e" fill="#333">(Steel)</text>
<path d="M180.2,1364.7V1268Q180.2,1265.9 182.5,1265.9H220Q224,1265.9 225.5,1270L242.7,1344.2L268.9,1357.5V1364.7Z" fill="none" stroke="#c8187f" stroke-width="1.3"/>
<path d="M180.2,1370.8V1314Q180.2,1310.5 184,1310.5H193Q198,1310.5 205,1315L229,1329Q232.7,1332 232.7,1336V1354Q232.7,1356.3 236,1356.8L268.9,1361V1370.8Z" fill="none" stroke="#2cb0d8" stroke-width="1.3"/>
<rect x="160.3" y="1351" width="72.4" height="27.7" rx="3" fill="none" stroke="#7a3a8e" stroke-width="1.3"/>
<text x="199" y="1282" font-size="10" class="m b" fill="#c8187f">WE</text>
<text x="204" y="1291" font-size="7" class="m" fill="#c8187f" textLength="46" lengthAdjust="spacingAndGlyphs">Corner-R(RE)=1.2</text>
<text x="198" y="1330" font-size="10" class="m b" fill="#2cb0d8">WE</text>
<text x="171" y="1378" font-size="10" class="m b" fill="#7a3a8e">WF</text>

<!-- chart 2 -->
<rect x="381.5" y="1261" width="140.1" height="122.4" fill="none" stroke="#999" stroke-width="0.8"/>
<path d="M381.5,1359.65h3M381.5,1335.9h3M381.5,1312.2h3M381.5,1288.4h3M381.5,1264.7h3M404.2,1383.4v-3M427.9,1383.4v-3M451.6,1383.4v-3M475.3,1383.4v-3M499,1383.4v-3" stroke="#999" stroke-width="0.7"/>
<g class="ax" font-size="8.5" text-anchor="end"><text x="377" y="1362.6">1</text><text x="377" y="1338.9">2</text><text x="377" y="1315.2">3</text><text x="377" y="1291.4">4</text><text x="377" y="1267.7">5</text></g>
<g class="ax" text-anchor="middle"><text x="404.2" y="1395">0.1</text><text x="427.9" y="1395">0.2</text><text x="451.6" y="1395">0.3</text><text x="475.3" y="1395">0.4</text><text x="499" y="1395">0.5</text><text x="522.7" y="1395">0.6</text></g>
<text x="452" y="1410" font-size="10" class="m" fill="#333">f (mm/rev)</text>
<text transform="translate(368,1322) rotate(-90)" font-size="10" class="m" fill="#333">ap (mm)</text>
<text x="522" y="1258" font-size="10" class="e" fill="#333">(Steel)</text>
<path d="M432,1265.8H486Q492,1265.8 493,1272L502.6,1334Q503,1343 496,1343.5L428,1336.5Q421,1335.5 421,1329L426,1271Q427,1265.8 432,1265.8Z" fill="none" stroke="#c8187f" stroke-width="1.3"/>
<path d="M416,1368V1316Q416,1312.2 420,1312.2Q423,1311.5 426,1313L503,1348Q511,1352 511,1360V1366Q511,1371.5 505,1371.5H419Q416,1371.5 416,1368Z" fill="none" stroke="#2cb0d8" stroke-width="1.3"/>
<rect x="400.6" y="1352.5" width="80.2" height="27.3" rx="3" fill="none" stroke="#7a3a8e" stroke-width="1.3"/>
<text x="463" y="1292" font-size="10.5" class="m b" fill="#c8187f">WQ</text>
<text x="463" y="1303" font-size="9" class="m" fill="#c8187f" textLength="70" lengthAdjust="spacingAndGlyphs">Corner-R(RE)=1.2</text>
<text x="496" y="1365" font-size="10.5" class="m b" fill="#2cb0d8">WQ</text>
<text x="411" y="1377" font-size="10" class="m b" fill="#7a3a8e">WP</text>

<!-- chart 3a -->
<rect x="616.7" y="1302.3" width="143.3" height="80.7" fill="none" stroke="#999" stroke-width="0.8"/>
<path d="M616.7,1356.3h3M616.7,1328.8h3M644,1383v-3M670.7,1383v-3M697.4,1383v-3M724.1,1383v-3" stroke="#999" stroke-width="0.7"/>
<g class="ax2" text-anchor="end"><text x="612" y="1360">1</text><text x="612" y="1332.5">2</text><text x="612" y="1305">3</text></g>
<g class="ax2" text-anchor="middle"><text x="644" y="1398">0.1</text><text x="670.7" y="1398">0.2</text><text x="697.4" y="1398">0.3</text><text x="724.1" y="1398">0.4</text><text x="750.8" y="1398">0.5</text></g>
<text x="688" y="1412" font-size="11" class="m" fill="#333">f (mm/rev)</text>
<text transform="translate(598,1343) rotate(-90)" font-size="11.5" class="m" fill="#333">ap (mm)</text>
<text x="688" y="1298" font-size="11.5" class="m" fill="#333">(Steel / Edge Length=06)</text>
<path d="M636,1368V1333Q636,1329.6 639.5,1329.6H657L681,1340Q684,1342 684,1345V1368Q684,1371.4 680.5,1371.4H639.5Q636,1371.4 636,1368Z" fill="none" stroke="#c8187f" stroke-width="1.3"/>
<path d="M630,1372V1359.5Q630,1356.3 633.5,1356.3H657L672,1361.5Q676,1363 676,1367V1372.5Q676,1375.6 672.5,1375.6H633.5Q630,1375.6 630,1372Z" fill="none" stroke="#2cb0d8" stroke-width="1.3"/>
<path d="M632,1328V1356" stroke="#777" stroke-width="0.6"/>
<text x="637" y="1325" font-size="10.5" class="m b" fill="#2cb0d8">GP</text>
<text x="652" y="1350" font-size="10.5" class="m b" fill="#c8187f">HQ</text>

<!-- chart 3b -->
<rect x="851.7" y="1276.3" width="133.3" height="106.7" fill="none" stroke="#999" stroke-width="0.8"/>
<path d="M851.7,1357h3M851.7,1330.1h3M851.7,1303.2h3M878.3,1383v-3M905,1383v-3M931.7,1383v-3M958.4,1383v-3" stroke="#999" stroke-width="0.7"/>
<g class="ax2" text-anchor="end"><text x="847" y="1361">1</text><text x="847" y="1334">2</text><text x="847" y="1307">3</text><text x="847" y="1280">4</text></g>
<g class="ax2" text-anchor="middle"><text x="878.3" y="1398">0.1</text><text x="905" y="1398">0.2</text><text x="931.7" y="1398">0.3</text><text x="958.4" y="1398">0.4</text><text x="985.1" y="1398">0.5</text></g>
<text x="918" y="1412" font-size="11" class="m" fill="#333">f (mm/rev)</text>
<text transform="translate(832,1330) rotate(-90)" font-size="11.5" class="m" fill="#333">ap (mm)</text>
<text x="921" y="1271" font-size="11.5" class="m" fill="#333">(Steel / Edge Length=08)</text>
<path d="M985,1348L920,1300.5Q918,1298.8 915,1298.8H892Q888.3,1298.8 888.3,1302.5V1338L933.3,1362.3H985" fill="none" stroke="#8e3b96" stroke-width="1.3"/>
<path d="M889.3,1306Q889.3,1303 893,1303H926.7L956,1335Q958.3,1338 958.3,1342V1366Q958.3,1369.7 954.5,1369.7H906L889.3,1352Z" fill="none" stroke="#2e8b4a" stroke-width="1.3"/>
<path d="M881.7,1322Q881.7,1319 885,1319H931.7L963,1339Q966.7,1341.3 966.7,1345V1366Q966.7,1369.7 963,1369.7H896.7L881.7,1353Z" fill="none" stroke="#2e8b4a" stroke-width="1.3"/>
<path d="M886.7,1333Q886.7,1329.7 890,1329.7H906.7L929,1341Q931.7,1343 931.7,1346V1368Q931.7,1371.3 928,1371.3H890Q886.7,1371.3 886.7,1368Z" fill="none" stroke="#c8187f" stroke-width="1.3"/>
<path d="M862.7,1347Q862.7,1343.7 866,1343.7H898.3L935,1365Q938.3,1367 938.3,1370V1374Q938.3,1377 935,1377H866Q862.7,1377 862.7,1374Z" fill="none" stroke="#e23b3b" stroke-width="1.3"/>
<rect x="867.3" y="1357" width="51" height="18.7" rx="4" fill="none" stroke="#2cb0d8" stroke-width="1.3"/>
<path d="M941.7,1323L948.3,1306.3M880.7,1313L884,1319M879.3,1325.7L885,1346.3M971.7,1326.3L968.3,1341.3M870,1337L872.7,1343" stroke="#666" stroke-width="0.6"/>
<text x="949.3" y="1303" font-size="10.5" class="m b" fill="#2e8b4a">CQ</text>
<text x="876.7" y="1313" font-size="10.5" class="m b" fill="#2e8b4a">PQ</text>
<text x="868.3" y="1325" font-size="10.5" class="m b" fill="#c8187f">HQ</text>
<text x="973.3" y="1324" font-size="10.5" class="m b" fill="#8e3b96">CJ</text>
<text x="865" y="1336" font-size="10.5" class="m b" fill="#e23b3b">PP</text>
<text x="876.7" y="1370" font-size="10.5" class="m b" fill="#2cb0d8">GP</text>
</svg>
</body></html>
